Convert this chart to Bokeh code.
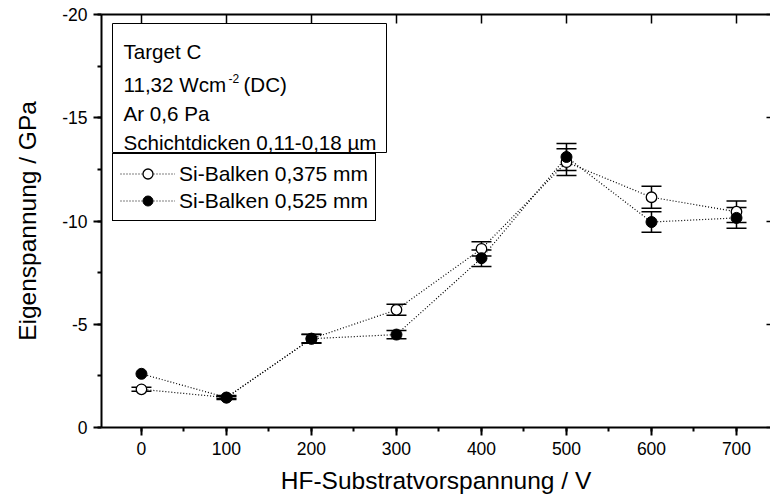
from bokeh.plotting import figure
from bokeh.models import (Range1d, LinearAxis, Legend, LegendItem, Whisker, TeeHead,
                          ColumnDataSource, BoxAnnotation, Label, SingleIntervalTicker)
from bokeh.embed import file_html
from bokeh.resources import INLINE

# ---- data ----
voltage = [0, 100, 200, 300, 400, 500, 600, 700]
stress_375 = [-1.85, -1.45, -4.3, -5.7, -8.65, -12.85, -11.15, -10.45]
err_375 = [0.1, 0.1, 0.2, 0.27, 0.35, 0.65, 0.53, 0.52]
stress_525 = [-2.6, -1.45, -4.3, -4.5, -8.2, -13.1, -9.95, -10.15]
err_525 = [None, 0.05, 0.22, 0.2, 0.4, 0.65, 0.5, 0.5]
series_labels = ["Si-Balken 0,375 mm", "Si-Balken 0,525 mm"]
y_ticks = [0, -5, -10, -15, -20]
y_tick_labels = ["0", "-5", "-10", "-15", "-20"]
info_lines = ["Target C", "11,32 Wcm", "-2", "(DC)", "Ar 0,6 Pa", "Schichtdicken 0,11-0,18 µm"]
x_title = "HF-Substratvorspannung / V"
y_title = "Eigenspannung / GPa"

FONT = "Liberation Sans"

p = figure(width=770, height=501, x_range=Range1d(-47, 740), y_range=Range1d(0, -20),
           output_backend="svg", toolbar_location=None,
           min_border_left=101, min_border_right=0, min_border_top=14, min_border_bottom=74,
           x_axis_label=x_title, y_axis_label=y_title)
p.grid.visible = False
p.outline_line_color = None
p.background_fill_color = "white"
p.border_fill_color = "white"

p.xaxis.ticker = SingleIntervalTicker(interval=100, num_minor_ticks=2)
p.yaxis.ticker = SingleIntervalTicker(interval=5, num_minor_ticks=2)
p.yaxis.major_label_overrides = dict(zip(y_ticks, y_tick_labels))
for ax in (p.xaxis[0], p.yaxis[0]):
    ax.axis_line_width = 2
    ax.major_tick_line_width = 2
    ax.minor_tick_line_width = 2
    ax.major_tick_out = 8
    ax.major_tick_in = 0
    ax.minor_tick_out = 4
    ax.minor_tick_in = 0
    ax.major_label_text_font = FONT
    ax.major_label_text_font_size = "17.5px"
    ax.major_label_text_color = "black"
    ax.axis_label_text_font = FONT
    ax.axis_label_text_font_size = "24.5px"
    ax.axis_label_text_font_style = "normal"
    ax.axis_label_text_color = "black"
    ax.major_label_standoff = 6
p.xaxis.axis_label_standoff = 9
p.yaxis.axis_label_standoff = 18

top_ax = LinearAxis(ticker=SingleIntervalTicker(interval=100, num_minor_ticks=0),
                    axis_line_width=2, major_tick_in=9, major_tick_out=0,
                    major_tick_line_width=1.5, minor_tick_line_color=None,
                    major_label_text_color=None, major_label_text_font_size="1px",
                    major_label_standoff=0)
p.add_layout(top_ax, "above")
right_ax = LinearAxis(ticker=SingleIntervalTicker(interval=5, num_minor_ticks=0),
                      axis_line_color=None, major_tick_in=4, major_tick_out=0,
                      major_tick_line_width=1.5, minor_tick_line_color=None,
                      major_label_text_color=None, major_label_text_font_size="1px",
                      major_label_standoff=0)
p.add_layout(right_ax, "right")

# error bars
def whisker_source(xs, ys, es):
    bx, up, lo = [], [], []
    for xv, yv, ev in zip(xs, ys, es):
        if ev is None:
            continue
        bx.append(xv); up.append(yv - ev); lo.append(yv + ev)
    return ColumnDataSource(dict(x=bx, upper=up, lower=lo))

for ys, es in ((stress_375, err_375), (stress_525, err_525)):
    w = Whisker(source=whisker_source(voltage, ys, es), base="x", upper="upper", lower="lower",
                dimension="height", line_color="black", line_width=1.5,
                upper_head=TeeHead(size=20, line_width=1.5, line_color="black"),
                lower_head=TeeHead(size=20, line_width=1.5, line_color="black"))
    p.add_layout(w)

l1 = p.line(voltage, stress_375, line_color="black", line_dash="1 2", line_width=1.2)
l2 = p.line(voltage, stress_525, line_color="black", line_dash="1 2", line_width=1.2)
s1 = p.scatter(voltage, stress_375, marker="circle", size=10.5, fill_color="white",
               line_color="black", line_width=1.3)
s2 = p.scatter(voltage, stress_525, marker="circle", size=11, fill_color="black",
               line_color="black", line_width=1)

# info box
p.add_layout(BoxAnnotation(left=11, right=285, top=404, bottom=275,
                           left_units="screen", right_units="screen",
                           top_units="screen", bottom_units="screen",
                           fill_color="white", fill_alpha=1, line_color="black",
                           line_width=1, line_alpha=1, level="overlay"))

def lab(txt, x, y, size="20.6px"):
    p.add_layout(Label(x=x, y=y, x_units="screen", y_units="screen", text=txt,
                       text_font=FONT, text_font_size=size, text_color="black",
                       text_baseline="alphabetic", text_align="left", level="overlay"))

lab(info_lines[0], 22, 376)
lab(info_lines[1], 22, 343)
lab(info_lines[2], 127, 349, "12px")
lab(info_lines[3], 142, 343)
lab(info_lines[4], 22, 314)
lab(info_lines[5], 22, 285)

legend = Legend(items=[LegendItem(label=series_labels[0], renderers=[l1, s1]),
                       LegendItem(label=series_labels[1], renderers=[l2, s2])],
                location=(11, 206), margin=0, padding=7, spacing=2,
                glyph_width=55, glyph_height=25, label_height=25, label_standoff=4,
                label_text_font=FONT, label_text_font_size="21px", label_text_color="black",
                border_line_color="black", border_line_width=1, border_line_alpha=1,
                background_fill_color="white", background_fill_alpha=1)
p.add_layout(legend)

open("out.html", "w").write(file_html(p, INLINE))
